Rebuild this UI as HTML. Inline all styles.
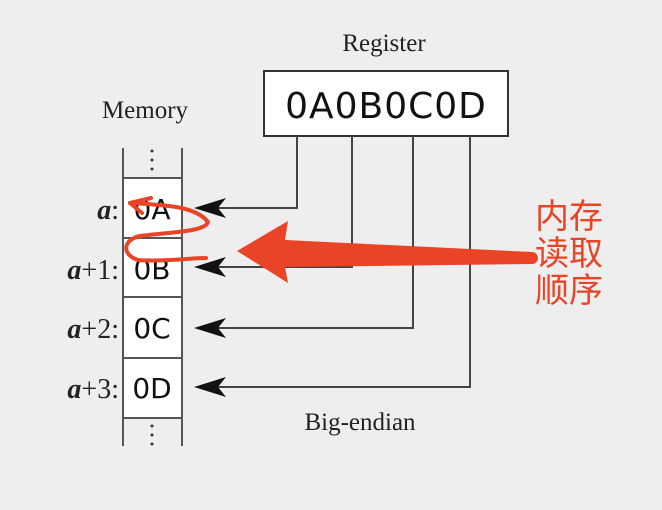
<!DOCTYPE html>
<html><head><meta charset="utf-8"><style>
body{margin:0;background:#eeeeee;}
svg{display:block}
</style></head><body>
<svg width="662" height="510" viewBox="0 0 662 510" xmlns="http://www.w3.org/2000/svg">
<rect width="662" height="510" fill="#eeeeee"/>
<text x="384" y="51" font-family="Liberation Serif, serif" font-size="25" text-anchor="middle" fill="#222">Register</text>
<rect x="264" y="71" width="244" height="65" fill="#fff" stroke="#333" stroke-width="2"/>
<text x="386" y="118" font-family="DejaVu Sans, sans-serif" font-size="36" text-anchor="middle" fill="#111" letter-spacing="1">0A0B0C0D</text>
<text x="145" y="118" font-family="Liberation Serif, serif" font-size="25" text-anchor="middle" fill="#222">Memory</text>
<rect x="123" y="178" width="59" height="240" fill="#fff"/>
<g stroke="#555" stroke-width="2" fill="none">
<line x1="123" y1="148" x2="123" y2="446"/><line x1="182" y1="148" x2="182" y2="446"/>
<line x1="123" y1="178" x2="182" y2="178"/><line x1="123" y1="238" x2="182" y2="238"/>
<line x1="123" y1="297" x2="182" y2="297"/><line x1="123" y1="358" x2="182" y2="358"/>
<line x1="123" y1="418" x2="182" y2="418"/>
</g>
<g fill="#333"><circle cx="152" cy="151" r="1.5"/><circle cx="152" cy="160" r="1.5"/><circle cx="152" cy="169" r="1.5"/>
<circle cx="152" cy="426" r="1.5"/><circle cx="152" cy="435" r="1.5"/><circle cx="152" cy="444" r="1.5"/></g>
<g font-family="DejaVu Sans, sans-serif" font-size="28" fill="#111" text-anchor="middle">
<text x="152" y="219">0A</text><text x="152" y="279">0B</text><text x="152" y="338">0C</text><text x="152" y="398">0D</text></g>
<g font-family="Liberation Serif, serif" font-size="28" fill="#222" text-anchor="end">
<text x="119" y="219"><tspan font-style="italic" font-weight="bold">a</tspan>:</text>
<text x="119" y="279"><tspan font-style="italic" font-weight="bold">a</tspan>+1:</text>
<text x="119" y="338"><tspan font-style="italic" font-weight="bold">a</tspan>+2:</text>
<text x="119" y="398"><tspan font-style="italic" font-weight="bold">a</tspan>+3:</text></g>
<g stroke="#444" stroke-width="2" fill="none">
<polyline points="297,136 297,208 200,208"/>
<polyline points="352,136 352,267 200,267"/>
<polyline points="413,136 413,328 200,328"/>
<polyline points="470,136 470,387 200,387"/>
</g>
<g fill="#111">
<path d="M194,208 L226,198 L218,208 L226,218 Z"/>
<path d="M194,267 L226,257 L218,267 L226,277 Z"/>
<path d="M194,328 L226,318 L218,328 L226,338 Z"/>
<path d="M194,387 L226,377 L218,387 L226,397 Z"/>
</g>
<text x="360" y="430" font-family="Liberation Serif, serif" font-size="25" text-anchor="middle" fill="#222">Big-endian</text>
<path d="M237,251 L288,221 L285,240 L532,252 A6,6 0 0 1 532,264 L285,267 L288,283 Z" fill="#e94426"/>
<g fill="none" stroke="#e94426" stroke-width="4" stroke-linecap="round" stroke-linejoin="round">
<path d="M151,198 L130,203 L142,213"/>
<path d="M130,203 C160,205 195,205 208,222 C205,232 170,232 140,236 C122,240 122,255 138,260 C160,262 190,258 206,258"/>
</g>
<g font-family="Noto Sans CJK SC, sans-serif" font-size="34" fill="#e94426">
<text x="535" y="228">内存</text><text x="535" y="265">读取</text><text x="535" y="302">顺序</text></g>
</svg>
</body></html>
